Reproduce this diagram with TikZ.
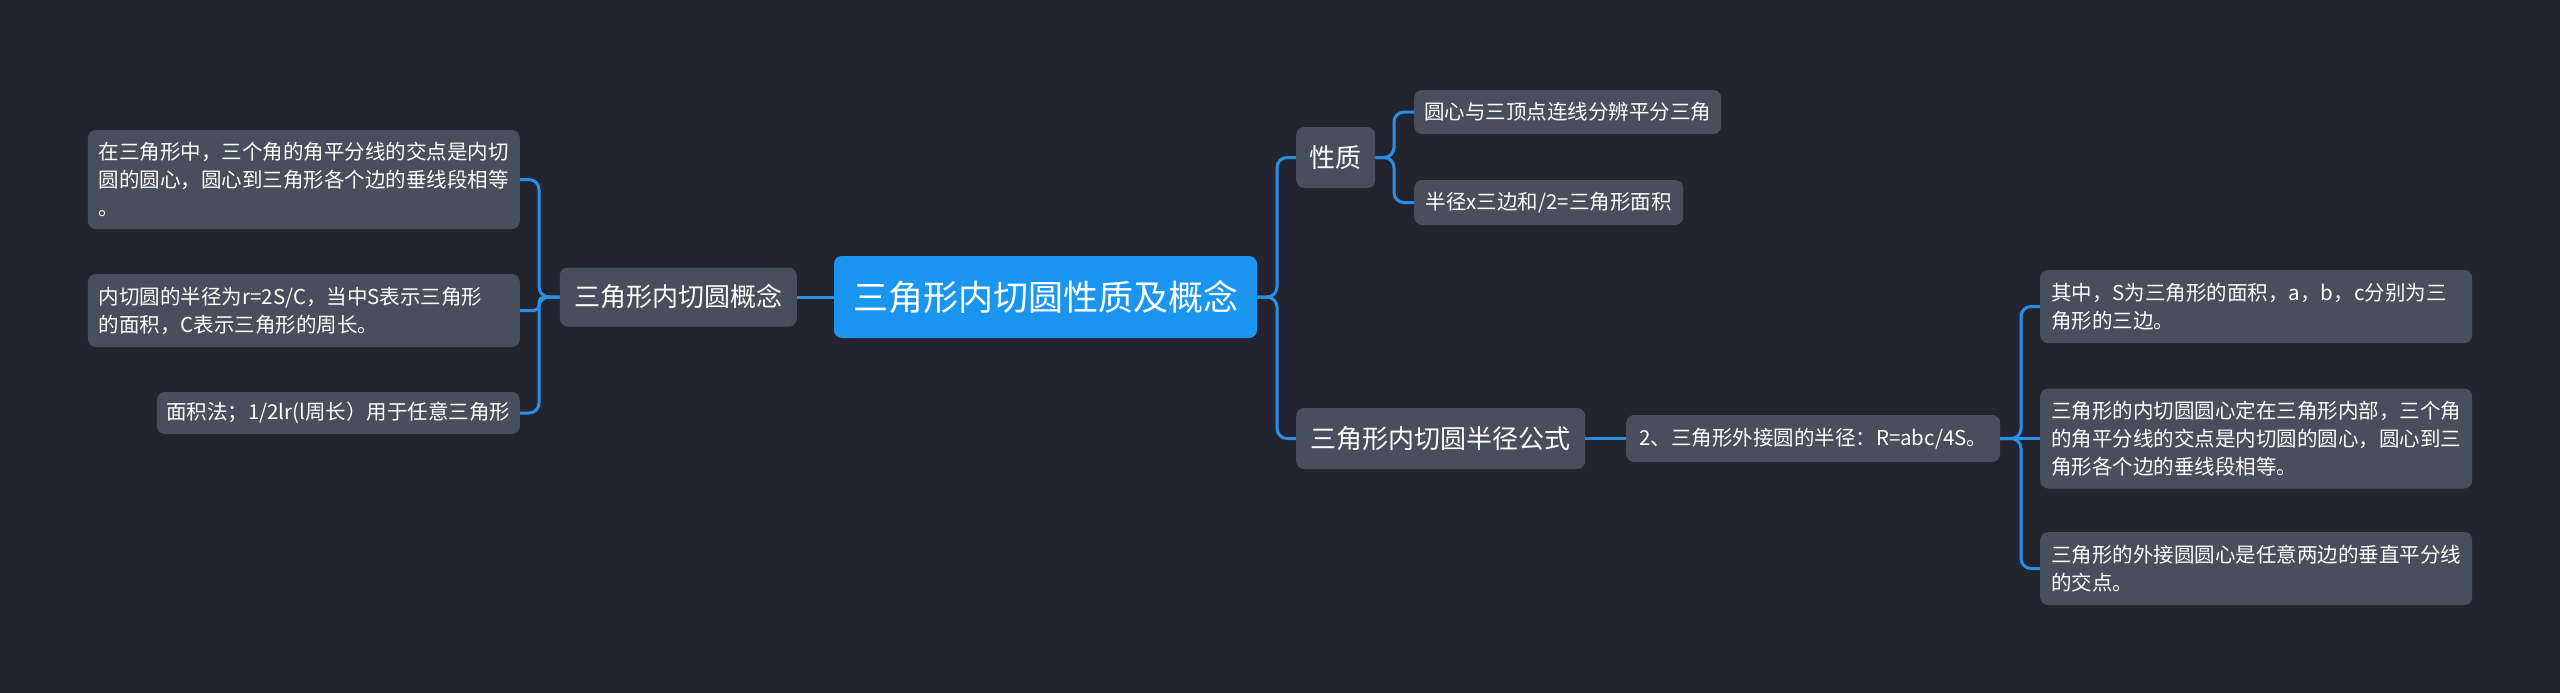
\documentclass[tikz,border=0pt]{standalone}
\usepackage{fontspec}
\setmainfont{Noto Sans CJK SC}
\definecolor{bgc}{RGB}{34,37,48}
\definecolor{boxc}{RGB}{73,78,92}
\definecolor{rootc}{RGB}{27,150,240}
\definecolor{linec}{RGB}{40,142,230}
\begin{document}
\begin{tikzpicture}[x=1pt,y=-1pt,
  basebox/.style={draw=none, fill=boxc, rounded corners=8pt, text=white, inner sep=0pt},
  rootbox/.style={basebox, fill=rootc, font=\fontsize{35}{42}\selectfont},
  subbox/.style={basebox, font=\fontsize{26}{32}\selectfont},
  leafbox/.style={basebox, font=\fontsize{20.5}{28}\selectfont},
  multibox/.style={leafbox, text width=410pt, align=left, inner xsep=11pt},
  conn/.style={draw=linec, line width=3pt, rounded corners=10pt}]
\fill[bgc] (0,0) rectangle (2560,693);
\useasboundingbox (0,0) rectangle (2560,693);

% root
\node[rootbox, minimum width=423pt, minimum height=82pt] (root) at (1045.5,297) {三角形内切圆性质及概念};

% left branch
\node[subbox, minimum width=237pt, minimum height=59pt, anchor=east] (lmid) at (797,297) {三角形内切圆概念};
\node[multibox, minimum height=99pt, anchor=east] (L1) at (520,179.5) {在三角形中，三个角的角平分线的交点是内切\\圆的圆心，圆心到三角形各个边的垂线段相等\\。};
\node[multibox, minimum height=73pt, anchor=east] (L2) at (520,310.5) {内切圆的半径为r=2S/C，当中S表示三角形\\的面积，C表示三角形的周长。};
\node[leafbox, minimum width=363pt, minimum height=42pt, anchor=east] (L3) at (520,413) {面积法；1/2lr(l周长）用于任意三角形};

% right branch
\node[subbox, minimum width=79pt, minimum height=61pt, anchor=west] (xz) at (1296,157.5) {性质};
\node[subbox, minimum width=289pt, minimum height=61pt, anchor=west] (bj) at (1296,438.5) {三角形内切圆半径公式};
\node[leafbox, minimum width=307pt, minimum height=44pt, anchor=west] (R1) at (1414,112) {圆心与三顶点连线分辨平分三角};
\node[leafbox, minimum width=269pt, minimum height=45pt, anchor=west] (R2) at (1414,202.5) {半径x三边和/2=三角形面积};
\node[leafbox, minimum width=374pt, minimum height=47pt, anchor=west] (M) at (1626,438.5) {2、三角形外接圆的半径：R=abc/4S。};
\node[multibox, minimum height=73pt, anchor=west] (C1) at (2040,306.5) {其中，S为三角形的面积，a，b，c分别为三\\角形的三边。};
\node[multibox, minimum height=100pt, anchor=west] (C2) at (2040,438.5) {三角形的内切圆圆心定在三角形内部，三个角\\的角平分线的交点是内切圆的圆心，圆心到三\\角形各个边的垂线段相等。};
\node[multibox, minimum height=73pt, anchor=west] (C3) at (2040,568.5) {三角形的外接圆圆心是任意两边的垂直平分线\\的交点。};

% junctions
\coordinate (lj) at (539,297);
\coordinate (rj) at (1277,297);
\coordinate (xj) at (1394,157.5);
\coordinate (mj) at (2021,438.5);

% connectors
\draw[conn] (root.west) -- (lmid.east);
\draw[conn] (lmid.west) -- (lj) |- (L1.east);
\draw[conn, rounded corners=5pt] (lmid.west) -- (lj) |- (L2.east);
\draw[conn] (lmid.west) -- (lj) |- (L3.east);
\draw[conn] (root.east) -- (rj) |- (xz.west);
\draw[conn] (root.east) -- (rj) |- (bj.west);
\draw[conn] (xz.east) -- (xj) |- (R1.west);
\draw[conn] (xz.east) -- (xj) |- (R2.west);
\draw[conn] (bj.east) -- (M.west);
\draw[conn] (M.east) -- (mj) |- (C1.west);
\draw[conn] (M.east) -- (C2.west);
\draw[conn] (M.east) -- (mj) |- (C3.west);
\end{tikzpicture}
\end{document}
